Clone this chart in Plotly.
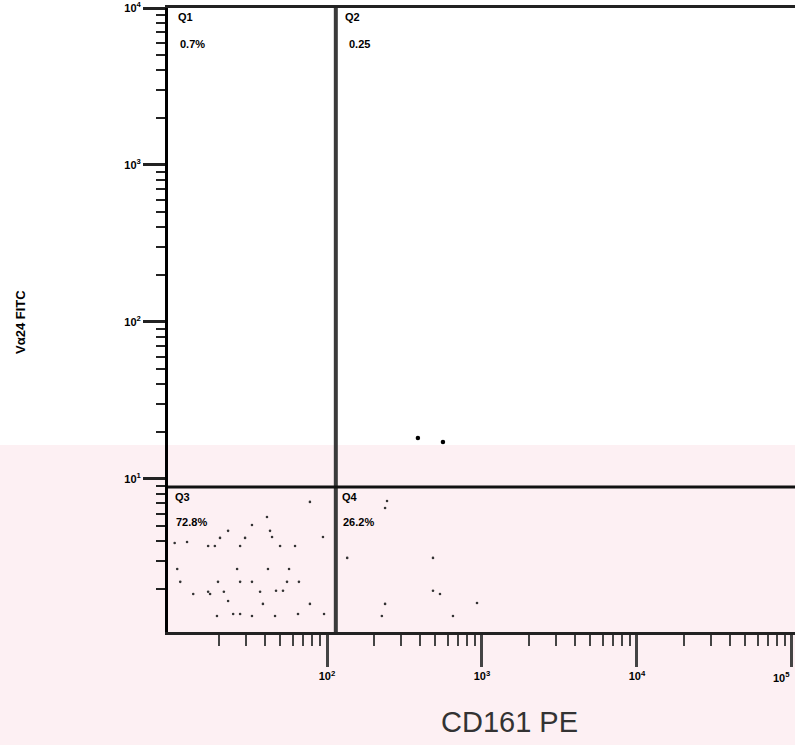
import plotly.graph_objects as go

# ---- data ----
ll_x = [77.6, 41.0, 42.9, 23.0, 32.8, 94.2, 44.2, 17.1, 18.9, 27.5, 49.8, 62.2, 20.4, 29.6,
        10.8, 26.3, 41.6, 56.9, 11.3, 19.8, 27.5, 32.8, 55.2, 65.9, 17.1, 21.6, 37.0, 46.9,
        52.0, 17.6, 13.7, 23.0, 77.6, 38.6, 19.5, 24.8, 27.5, 32.8, 46.2, 65.0, 95.7, 10.4, 12.5]
ll_y = [7.14, 5.72, 4.67, 4.67, 5.09, 4.27, 4.27, 3.74, 3.74, 3.74, 3.74, 3.74, 4.21, 4.21,
        2.67, 2.67, 2.67, 2.67, 2.21, 2.21, 2.21, 2.21, 2.21, 2.21, 1.91, 1.91, 1.91, 1.94,
        1.94, 1.85, 1.85, 1.67, 1.60, 1.60, 1.34, 1.38, 1.38, 1.34, 1.34, 1.38, 1.38, 3.91, 3.97]
lr_x = [135, 483, 483, 536, 237, 226, 929, 650, 237, 244]
lr_y = [3.14, 3.14, 1.94, 1.85, 1.60, 1.34, 1.62, 1.34, 6.53, 7.24]
ur_x = [386, 560]
ur_y = [18.2, 17.2]

gate_x = 114.0   # vertical quadrant gate (CD161 PE)
gate_y = 8.9     # horizontal quadrant gate (Va24 FITC)

quad_names = ["Q1", "Q2", "Q3", "Q4"]
quad_pcts = ["0.7%", "0.25", "72.8%", "26.2%"]

x_major = [100, 1000, 10000, 100000]
x_major_text = ["10<sup>2</sup>", "10<sup>3</sup>", "10<sup>4</sup>", ""]
x_last_label = "10<sup>5</sup>"
y_major = [10, 100, 1000, 10000]
y_major_text = ["10<sup>1</sup>", "10<sup>2</sup>", "10<sup>3</sup>", "10<sup>4</sup>"]

x_minor = [d * 10 ** e for e in range(1, 5) for d in range(2, 10)]
y_minor = [d * 10 ** e for e in range(0, 4) for d in range(2, 10)]

x_range_log = [0.974, 5.02]
y_range_log = [0.025, 4.0]

fig = go.Figure()

fig.add_trace(go.Scatter(x=ll_x + lr_x, y=ll_y + lr_y, mode="markers",
                         marker=dict(size=2.6, color="#333333"), showlegend=False,
                         hoverinfo="skip"))
fig.add_trace(go.Scatter(x=ur_x, y=ur_y, mode="markers",
                         marker=dict(size=4.5, color="#000000"), showlegend=False,
                         hoverinfo="skip"))

# gate lines
fig.add_trace(go.Scatter(x=[gate_x, gate_x], y=[10 ** y_range_log[0], 10 ** y_range_log[1]],
                         mode="lines", line=dict(color="#3a3a3a", width=4),
                         showlegend=False, hoverinfo="skip", cliponaxis=False))
fig.add_trace(go.Scatter(x=[10 ** x_range_log[0], 10 ** x_range_log[1]], y=[gate_y, gate_y],
                         mode="lines", line=dict(color="#111111", width=3),
                         showlegend=False, hoverinfo="skip", cliponaxis=False))

L, T, B = 168, 8, 113
W, H = 795, 745
pw, ph = W - L, H - T - B

def px(xp):
    return (xp - L) / pw

def py(yp):
    return (H - B - yp) / ph

# faint pink watermark band in the lower part of the image
fig.add_shape(type="rect", xref="paper", yref="paper", x0=px(0), x1=px(W), y0=py(H), y1=py(445),
              fillcolor="#fdf0f3", line=dict(width=0), layer="below")

lab_pos = [(176, 17, 178, 44), (343, 17, 347, 44), (173, 497, 174, 522), (340, 497, 341, 522)]
for name, pct, (nx, ny, qx, qy) in zip(quad_names, quad_pcts, lab_pos):
    fig.add_annotation(x=px(nx), y=py(ny), xref="paper", yref="paper", text=name,
                       showarrow=False, xanchor="left", yanchor="middle",
                       font=dict(family="Liberation Sans", size=11, color="#000", weight="bold"))
    fig.add_annotation(x=px(qx), y=py(qy), xref="paper", yref="paper", text=pct,
                       showarrow=False, xanchor="left", yanchor="middle",
                       font=dict(family="Liberation Sans", size=11, color="#000", weight="bold"))

# last x tick label, kept inside the page
fig.add_annotation(x=px(781), y=py(677), xref="paper", yref="paper", text=x_last_label,
                   showarrow=False, xanchor="center", yanchor="middle",
                   font=dict(family="Liberation Sans", size=11, color="#000", weight="bold"))

fig.add_annotation(x=px(509), y=py(722), xref="paper", yref="paper", text="CD161 PE",
                   showarrow=False, xanchor="center", yanchor="middle",
                   font=dict(family="Liberation Sans", size=29, color="#333"))
fig.add_annotation(x=px(20), y=py(322), xref="paper", yref="paper", text="Vα24 FITC",
                   showarrow=False, textangle=-90, xanchor="center", yanchor="middle",
                   font=dict(family="Liberation Sans", size=13, color="#000", weight="bold"))

fig.update_xaxes(type="log", range=x_range_log, showgrid=False, zeroline=False,
                 showline=True, linecolor="#222", linewidth=3, mirror=True,
                 tickmode="array", tickvals=x_major, ticktext=x_major_text,
                 ticks="outside", ticklen=32, tickwidth=3, tickcolor="#444",
                 tickfont=dict(family="Liberation Sans", size=11, color="#000", weight="bold"),
                 minor=dict(tickvals=x_minor, ticks="outside", ticklen=11, tickwidth=2,
                            tickcolor="#444", showgrid=False))
fig.update_yaxes(type="log", range=y_range_log, showgrid=False, zeroline=False,
                 showline=True, linecolor="#000", linewidth=3, mirror=False,
                 tickmode="array", tickvals=y_major, ticktext=y_major_text,
                 ticks="outside", ticklen=22, tickwidth=3, tickcolor="#222",
                 tickfont=dict(family="Liberation Sans", size=11, color="#000", weight="bold"),
                 minor=dict(tickvals=y_minor, ticks="outside", ticklen=9, tickwidth=2,
                            tickcolor="#222", showgrid=False))

fig.update_layout(width=W, height=H, margin=dict(l=L, r=0, t=T, b=B),
                  paper_bgcolor="white", plot_bgcolor="rgba(0,0,0,0)", showlegend=False)

fig.write_html("out.html")
